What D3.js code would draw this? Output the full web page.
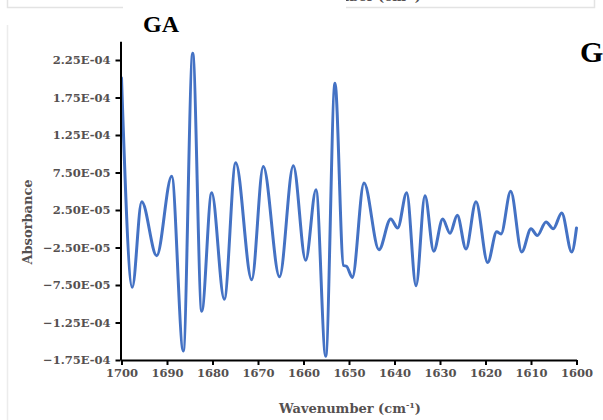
<!DOCTYPE html>
<html>
<head>
<meta charset="utf-8">
<script src="https://cdn.jsdelivr.net/npm/d3@7"></script>
<style>
  html, body { margin: 0; padding: 0; background: #ffffff; }
  svg { display: block; }
</style>
</head>
<body>
<svg id="chart" width="603" height="420"></svg>
<script>
// Second-derivative FTIR spectrum, amide I region (sample GA)
const wavenumbers = [
  1700.00, 1697.63, 1695.56, 1692.26, 1688.97, 1686.42, 1684.35, 1682.37,
  1680.18, 1677.41, 1674.90, 1671.38, 1668.84, 1665.27, 1662.24, 1659.52,
  1657.25, 1655.12, 1653.08, 1651.21, 1650.55, 1649.27, 1646.70, 1643.41,
  1640.84, 1639.30, 1637.32, 1635.27, 1633.30, 1631.38, 1629.41, 1627.80,
  1626.20, 1624.29, 1622.09, 1619.52, 1617.54, 1616.59, 1614.46, 1612.04,
  1610.00, 1608.62, 1606.70, 1605.10, 1603.25, 1601.05, 1600.00
];
const absorbance = [
  20.1e-5, -7.8e-5, 3.6e-5, -3.6e-5, 7.0e-5, -16.3e-5, 23.4e-5, -11.0e-5,
  4.8e-5, -9.4e-5, 8.8e-5, -6.8e-5, 8.3e-5, -6.4e-5, 8.4e-5, -4.2e-5,
  5.2e-5, -17.0e-5, 19.4e-5, -4.9e-5, -5.0e-5, -6.5e-5, 6.1e-5, -2.8e-5,
  1.3e-5, 0.1e-5, 4.8e-5, -7.6e-5, 4.4e-5, -3.0e-5, 1.3e-5, -0.6e-5,
  1.8e-5, -2.7e-5, 3.6e-5, -4.5e-5, -0.4e-5, -0.7e-5, 5.0e-5, -3.1e-5,
  0.0e-5, -0.9e-5, 0.9e-5, 0.0e-5, 2.1e-5, -3.1e-5, 0.1e-5
];
const xTickValues = [1700, 1690, 1680, 1670, 1660, 1650, 1640, 1630, 1620, 1610, 1600];
const yTickValues = [-1.75e-4, -1.25e-4, -7.5e-5, -2.5e-5, 2.5e-5, 7.5e-5, 1.25e-4, 1.75e-4, 2.25e-4];
const yDomain = [-1.75e-4, 2.5e-4];

const chartTitle = "GA";
const nextTitle = "G";
const xTitle = "Wavenumber (cm";
const yTitle = "Absorbance";

const svg = d3.select("#chart");
const serif = "'DejaVu Serif', serif";
const labelColor = "#555050";

// neighbouring panel frames
svg.append("path")
  .attr("d", "M7.5,0 V7.5 H594.5 V0")
  .attr("fill", "none").attr("stroke", "#e3e3e3").attr("stroke-width", 1.5);
svg.append("line")
  .attr("x1", 7.5).attr("x2", 7.5).attr("y1", 25).attr("y2", 420)
  .attr("stroke", "#ececec").attr("stroke-width", 1.5);

// axis title of the panel above, mostly hidden behind this panel's title box
const upper = svg.append("text")
  .attr("x", 350).attr("y", 1)
  .attr("text-anchor", "middle")
  .attr("font-family", serif).attr("font-weight", "bold")
  .attr("font-size", 13).attr("fill", labelColor);
upper.append("tspan").text(xTitle);
upper.append("tspan").attr("dy", -5).attr("font-size", 8).text("-1");
upper.append("tspan").attr("dy", 5).text(")");

svg.append("rect")
  .attr("x", 123).attr("y", 0).attr("width", 223).attr("height", 26)
  .attr("fill", "#ffffff");

const x = d3.scaleLinear().domain([1700, 1600]).range([121.5, 576.5]);
const y = d3.scaleLinear().domain(yDomain).range([360, 41.25]);

function sci(v) {
  const [m, e] = d3.format(".2e")(v).split("e");
  const ex = +e;
  return m + "E" + (ex < 0 ? "-" : "+") + String(Math.abs(ex)).padStart(2, "0");
}

// spectrum trace
const line = d3.line()
  .x((d, i) => x(wavenumbers[i]))
  .y(d => y(d))
  .curve(d3.curveMonotoneX);

svg.append("path")
  .datum(absorbance)
  .attr("d", line)
  .attr("fill", "none")
  .attr("stroke", "#4472C4")
  .attr("stroke-width", 3)
  .attr("stroke-linejoin", "round")
  .attr("stroke-linecap", "round");

// axes
const yAxis = svg.append("g")
  .attr("transform", "translate(120.5,0)")
  .call(d3.axisLeft(y).tickValues(yTickValues).tickFormat(sci)
    .tickSize(5).tickSizeOuter(0).tickPadding(5));

const xAxis = svg.append("g")
  .attr("transform", "translate(0,360)")
  .call(d3.axisBottom(x).tickValues(xTickValues).tickFormat(d3.format("d"))
    .tickSize(5).tickSizeOuter(0).tickPadding(4));

[yAxis, xAxis].forEach(g => {
  g.select(".domain").attr("stroke", "#000").attr("stroke-width", 2);
  g.selectAll(".tick line").attr("stroke", "#000").attr("stroke-width", 2);
  g.selectAll(".tick text")
    .attr("font-family", serif).attr("font-weight", "bold")
    .attr("font-size", 11.5).attr("fill", labelColor);
});

// titles
svg.append("text")
  .attr("x", 161).attr("y", 31.5)
  .attr("text-anchor", "middle")
  .attr("font-family", "'Liberation Serif', serif").attr("font-weight", "bold")
  .attr("font-size", 24).attr("fill", "#000")
  .text(chartTitle);

svg.append("text")
  .attr("x", 580).attr("y", 62)
  .attr("font-family", "'Liberation Serif', serif").attr("font-weight", "bold")
  .attr("font-size", 30).attr("fill", "#000")
  .text(nextTitle);

const xt = svg.append("text")
  .attr("x", 350).attr("y", 413)
  .attr("text-anchor", "middle")
  .attr("font-family", serif).attr("font-weight", "bold")
  .attr("font-size", 13).attr("fill", labelColor);
xt.append("tspan").text(xTitle);
xt.append("tspan").attr("dy", -5).attr("font-size", 8).text("-1");
xt.append("tspan").attr("dy", 5).text(")");

svg.append("text")
  .attr("transform", "translate(32,222) rotate(-90)")
  .attr("text-anchor", "middle")
  .attr("font-family", serif).attr("font-weight", "bold")
  .attr("font-size", 13).attr("fill", labelColor)
  .text(yTitle);
</script>
</body>
</html>
